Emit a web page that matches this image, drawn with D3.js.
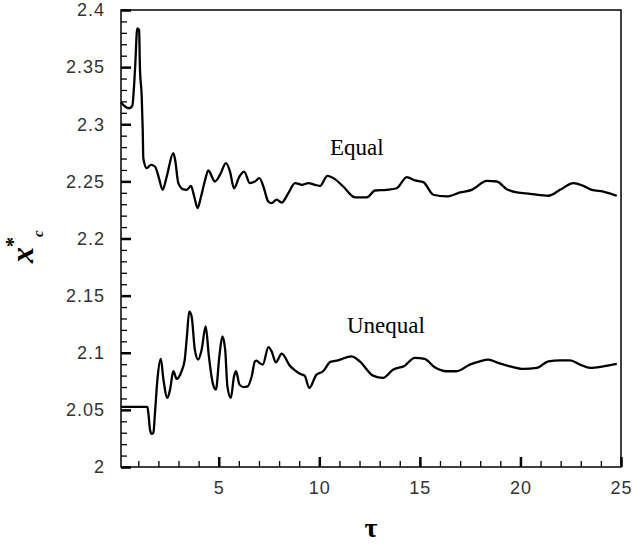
<!DOCTYPE html>
<html>
<head>
<meta charset="utf-8">
<script src="https://cdn.jsdelivr.net/npm/d3@7/dist/d3.min.js"></script>
<style>
  body { margin: 0; background: #fff; }
  #chart { width: 632px; height: 546px; }
  .tick text { font-family: "Liberation Sans", Arial, sans-serif; font-size: 18px; fill: #333; letter-spacing: 1px; }
</style>
</head>
<body>
<div id="chart"></div>
<script>
const width = 632;
const height = 546;
const margin = { top: 10, right: 11, bottom: 79, left: 121 };

// tau values and x*_c for the two cases
const equalTau = [0.14, 0.34, 0.54, 0.70, 0.84, 0.95, 1.04, 1.08, 1.17, 1.22, 1.25, 1.42, 1.63, 1.83, 2.01, 2.21, 2.41, 2.74, 2.83, 2.99, 3.24, 3.41, 3.62, 3.78, 3.95, 4.12, 4.32, 4.48, 4.81, 5.06, 5.36, 5.56, 5.76, 6.02, 6.26, 6.55, 6.80, 7.02, 7.22, 7.46, 7.63, 7.88, 8.13, 8.46, 8.79, 9.13, 9.45, 9.79, 10.04, 10.40, 10.78, 11.19, 11.78, 12.36, 12.77, 13.35, 13.85, 14.35, 14.76, 15.17, 15.67, 16.34, 17.00, 17.58, 18.33, 18.82, 19.32, 19.82, 20.48, 21.39, 21.97, 22.63, 23.13, 23.55, 24.12, 24.79];
const equalX = [2.319, 2.3155, 2.314, 2.316, 2.349, 2.384, 2.3825, 2.350, 2.324, 2.295, 2.270, 2.2616, 2.2645, 2.263, 2.254, 2.2426, 2.254, 2.2747, 2.269, 2.2485, 2.243, 2.2426, 2.246, 2.2368, 2.2266, 2.2368, 2.251, 2.2595, 2.2499, 2.2557, 2.266, 2.2586, 2.244, 2.254, 2.2586, 2.2485, 2.2499, 2.2528, 2.2455, 2.2324, 2.231, 2.234, 2.2315, 2.2397, 2.2485, 2.247, 2.2485, 2.247, 2.246, 2.2549, 2.252, 2.2455, 2.236, 2.236, 2.242, 2.2426, 2.244, 2.2537, 2.2508, 2.2493, 2.2383, 2.2368, 2.2403, 2.2426, 2.2505, 2.2499, 2.2432, 2.2403, 2.2391, 2.2374, 2.2426, 2.2485, 2.246, 2.2426, 2.2411, 2.2374];

const unequalTau = [0.14, 1.45, 1.50, 1.58, 1.66, 1.75, 1.83, 1.95, 2.12, 2.25, 2.45, 2.58, 2.74, 2.91, 2.99, 3.15, 3.31, 3.42, 3.53, 3.65, 3.81, 3.98, 4.15, 4.35, 4.51, 4.70, 4.86, 5.03, 5.18, 5.32, 5.43, 5.60, 5.76, 5.86, 6.03, 6.23, 6.44, 6.64, 6.80, 6.89, 7.02, 7.19, 7.47, 7.63, 7.84, 8.13, 8.54, 8.79, 9.05, 9.27, 9.50, 9.86, 10.19, 10.55, 10.93, 11.60, 12.01, 12.67, 13.17, 13.66, 14.25, 14.74, 15.24, 15.74, 16.32, 16.82, 17.48, 17.98, 18.40, 18.89, 19.48, 20.14, 20.81, 21.39, 21.97, 22.47, 22.97, 23.47, 24.12, 24.79];
const unequalX = [2.0526, 2.0526, 2.0474, 2.0328, 2.029, 2.030, 2.0474, 2.0765, 2.0946, 2.0765, 2.0605, 2.0678, 2.0838, 2.0771, 2.078, 2.0838, 2.094, 2.115, 2.136, 2.132, 2.1027, 2.094, 2.1027, 2.123, 2.0969, 2.0736, 2.0678, 2.0969, 2.1144, 2.1027, 2.0706, 2.0605, 2.0794, 2.0838, 2.0721, 2.070, 2.0706, 2.0794, 2.0925, 2.0931, 2.0911, 2.0896, 2.105, 2.1012, 2.0916, 2.0992, 2.0885, 2.0846, 2.0815, 2.080, 2.0692, 2.0809, 2.0838, 2.092, 2.0934, 2.0969, 2.0925, 2.080, 2.078, 2.0852, 2.0887, 2.0955, 2.0946, 2.0873, 2.0838, 2.0838, 2.0896, 2.0925, 2.094, 2.0911, 2.0881, 2.0858, 2.0867, 2.0925, 2.0934, 2.0934, 2.0896, 2.0867, 2.0881, 2.0902];

const xMajorTicks = [5, 10, 15, 20, 25];
const xTickLabels = ["5", "10", "15", "20", "25"];
const xMinorTicks = d3.range(1, 26);
const yMajorTicks = [2, 2.05, 2.1, 2.15, 2.2, 2.25, 2.3, 2.35, 2.4];
const yTickLabels = ["2", "2.05", "2.1", "2.15", "2.2", "2.25", "2.3", "2.35", "2.4"];
const yMinorTicks = d3.range(0, 41).map((i) => 2 + i * 0.01);

const svg = d3
  .select("#chart")
  .append("svg")
  .attr("width", width)
  .attr("height", height);

svg.append("rect").attr("width", width).attr("height", height).attr("fill", "#fff");

const x = d3.scaleLinear().domain([0.14, 25]).range([margin.left, width - margin.right]);
const y = d3.scaleLinear().domain([2, 2.4]).range([height - margin.bottom, margin.top]);

// frame
svg
  .append("rect")
  .attr("x", margin.left)
  .attr("y", margin.top)
  .attr("width", width - margin.left - margin.right)
  .attr("height", height - margin.top - margin.bottom)
  .attr("fill", "none")
  .attr("stroke", "#000")
  .attr("stroke-width", 1.5);

const bottom = height - margin.bottom;

// minor ticks
svg
  .append("g")
  .attr("transform", `translate(0,${bottom})`)
  .call(d3.axisBottom(x).tickValues(xMinorTicks).tickSizeInner(-6).tickSizeOuter(0).tickFormat(""))
  .call((g) => g.select(".domain").remove())
  .call((g) => g.selectAll("line").attr("stroke-width", 1.3));

svg
  .append("g")
  .attr("transform", `translate(${margin.left},0)`)
  .call(d3.axisLeft(y).tickValues(yMinorTicks).tickSizeInner(-6).tickSizeOuter(0).tickFormat(""))
  .call((g) => g.select(".domain").remove())
  .call((g) => g.selectAll("line").attr("stroke-width", 1.3));

// major ticks with labels
svg
  .append("g")
  .attr("transform", `translate(0,${bottom})`)
  .call(
    d3
      .axisBottom(x)
      .tickValues(xMajorTicks)
      .tickSizeInner(-10)
      .tickSizeOuter(0)
      .tickPadding(14)
      .tickFormat((d, i) => xTickLabels[i])
  )
  .call((g) => g.select(".domain").remove())
  .call((g) => g.selectAll("line").attr("stroke-width", 2.5));

svg
  .append("g")
  .attr("transform", `translate(${margin.left},0)`)
  .call(
    d3
      .axisLeft(y)
      .tickValues(yMajorTicks)
      .tickSizeInner(-10)
      .tickSizeOuter(0)
      .tickPadding(16)
      .tickFormat((d, i) => yTickLabels[i])
  )
  .call((g) => g.select(".domain").remove())
  .call((g) => g.selectAll("line").attr("stroke-width", 2.5));

// curves
const line = d3
  .line()
  .curve(d3.curveMonotoneX)
  .x((d) => x(d[0]))
  .y((d) => y(d[1]));

const series = [
  { name: "Equal", data: d3.zip(equalTau, equalX) },
  { name: "Unequal", data: d3.zip(unequalTau, unequalX) },
];

svg
  .append("g")
  .selectAll("path")
  .data(series)
  .enter()
  .append("path")
  .attr("d", (d) => line(d.data))
  .attr("fill", "none")
  .attr("stroke", "#000")
  .attr("stroke-width", 2.3);

// curve labels
const serif = "'Liberation Serif', 'Times New Roman', serif";
svg
  .append("text")
  .attr("x", 330)
  .attr("y", 155)
  .attr("font-family", serif)
  .attr("font-size", 23)
  .text("Equal");

svg
  .append("text")
  .attr("x", 347)
  .attr("y", 333)
  .attr("font-family", serif)
  .attr("font-size", 23)
  .text("Unequal");

// axis titles
svg
  .append("text")
  .attr("x", (margin.left + width - margin.right) / 2)
  .attr("y", 537)
  .attr("text-anchor", "middle")
  .attr("font-family", serif)
  .attr("font-weight", "bold")
  .attr("font-size", 28)
  .text("τ");

const yTitle = svg
  .append("text")
  .attr("transform", "translate(33,263) rotate(-90)")
  .attr("font-family", serif)
  .attr("font-weight", "bold")
  .attr("font-size", 32);
yTitle.append("tspan").attr("font-style", "italic").text("x");
yTitle.append("tspan").attr("font-size", 20).attr("dy", -13).text("*");
yTitle.append("tspan").attr("font-size", 15).attr("font-style", "italic").attr("dy", 23).text("c");
</script>
</body>
</html>
